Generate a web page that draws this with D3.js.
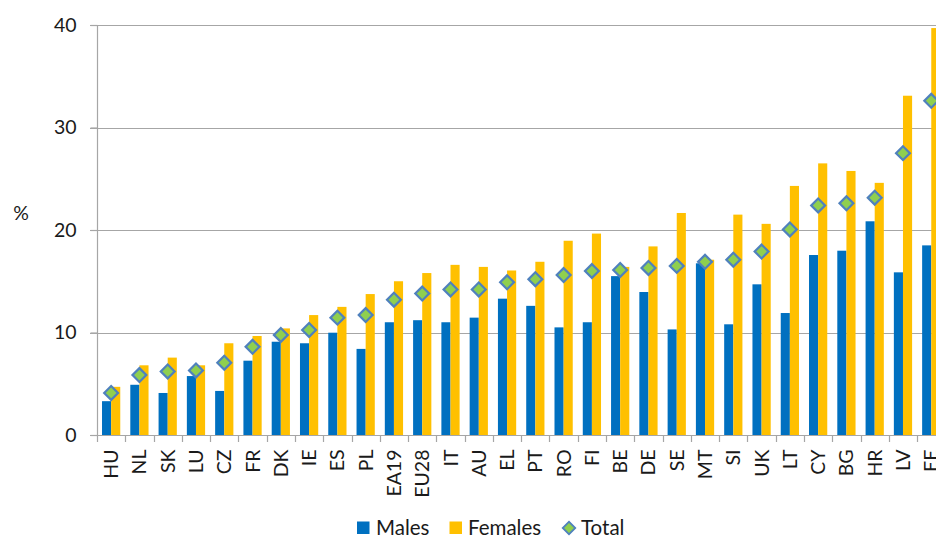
<!DOCTYPE html>
<html>
<head>
<meta charset="utf-8">
<script src="https://cdn.jsdelivr.net/npm/d3@7/dist/d3.min.js"></script>
<style>
  html, body { margin: 0; padding: 0; background: #fff; }
  svg { display: block; font-family: Lato, "Open Sans", sans-serif; }
</style>
</head>
<body>
<svg id="chart" width="936" height="538"></svg>
<script>
const categories = ["HU","NL","SK","LU","CZ","FR","DK","IE","ES","PL","EA19","EU28","IT","AU","EL","PT","RO","FI","BE","DE","SE","MT","SI","UK","LT","CY","BG","HR","LV","EE"];
const males   = [3.3, 4.9, 4.1, 5.75, 4.3, 7.25, 9.1, 8.95, 9.98, 8.4, 11.0, 11.2, 11.0, 11.45, 13.3, 12.6, 10.5, 11.0, 15.5, 13.95, 10.3, 16.75, 10.8, 14.7, 11.9, 17.56, 17.98, 20.85, 15.87, 18.5];
const females = [4.7, 6.8, 7.55, 6.8, 8.95, 9.66, 10.4, 11.7, 12.5, 13.75, 15.0, 15.8, 16.6, 16.4, 16.05, 16.9, 18.95, 19.65, 16.4, 18.4, 21.66, 17.1, 21.5, 20.6, 24.3, 26.5, 25.76, 24.6, 33.1, 39.7];
const total   = [4.1, 5.85, 6.2, 6.3, 7.05, 8.6, 9.76, 10.25, 11.45, 11.7, 13.2, 13.8, 14.2, 14.2, 14.9, 15.2, 15.6, 16.0, 16.1, 16.3, 16.5, 16.9, 17.1, 17.9, 20.05, 22.4, 22.6, 23.15, 27.5, 32.6];
const yTicks  = [0, 10, 20, 30, 40];
const seriesNames = ["Males", "Females", "Total"];

const svg = d3.select("#chart");
const left = 97, step = 28.28, nCat = categories.length;
const x = d3.scaleBand().domain(categories).range([left, left + step * nCat]).paddingInner(0).paddingOuter(0);
const y = d3.scaleLinear().domain([0, 40]).range([435, 25]);
const bw = x.bandwidth() / 3.1;

const gridColor = "#a6a6a6";
const textColor = "#1a1a1a";

// gridlines
svg.append("g").selectAll("line").data(yTicks.filter(d => d > 0)).join("line")
  .attr("x1", left - 7).attr("x2", 936)
  .attr("y1", d => Math.round(y(d)) + 0.5).attr("y2", d => Math.round(y(d)) + 0.5)
  .attr("stroke", gridColor).attr("stroke-width", 1.2);

// y axis
const yAxis = d3.axisLeft(y).tickValues(yTicks).tickSize(7).tickPadding(14).tickFormat(d3.format("d"));
const gy = svg.append("g").attr("transform", `translate(${left + 0.5},0)`).call(yAxis);
gy.select(".domain").attr("stroke", gridColor).attr("stroke-width", 1.2).attr("d", `M0,${y(40)}V${y(0)}`);
gy.selectAll(".tick line").attr("stroke", gridColor).attr("stroke-width", 1.2);
gy.selectAll(".tick text").attr("fill", textColor).style("font-size", "19.5px").style("font-family", "Lato");

// bars
const gBars = svg.append("g");
gBars.selectAll("rect.m").data(categories).join("rect").attr("class", "m")
  .attr("x", d => x(d) + x.bandwidth() / 2 - bw)
  .attr("width", bw)
  .attr("y", (d, i) => y(males[i]))
  .attr("height", (d, i) => y(0) - y(males[i]))
  .attr("fill", "#0070c0");
gBars.selectAll("rect.f").data(categories).join("rect").attr("class", "f")
  .attr("x", d => x(d) + x.bandwidth() / 2)
  .attr("width", bw)
  .attr("y", (d, i) => y(females[i]))
  .attr("height", (d, i) => y(0) - y(females[i]))
  .attr("fill", "#ffc000");

// x axis
const xAxis = d3.axisBottom(x).tickSize(0).tickPadding(0);
const gx = svg.append("g").attr("transform", `translate(0,${y(0) + 0.5})`).call(xAxis);
gx.select(".domain").attr("stroke", gridColor).attr("stroke-width", 1.2).attr("d", `M${left - 7},0H936`);
gx.selectAll(".tick text")
  .attr("fill", textColor).style("font-size", "19.5px").style("font-family", "Lato")
  .attr("text-anchor", "end")
  .attr("transform", "rotate(-90)")
  .attr("x", -14).attr("y", 0).attr("dy", "0.36em");
// tick separators between categories
svg.append("g").selectAll("line").data(d3.range(nCat + 1)).join("line")
  .attr("x1", i => Math.round(left + i * step) + 0.5).attr("x2", i => Math.round(left + i * step) + 0.5)
  .attr("y1", y(0)).attr("y2", y(0) + 7)
  .attr("stroke", gridColor).attr("stroke-width", 1.2);

// total diamonds
const diamond = d3.symbol(d3.symbolSquare, 96);
svg.append("g").selectAll("path").data(categories).join("path")
  .attr("d", diamond)
  .attr("transform", (d, i) => `translate(${x(d) + x.bandwidth() / 2},${y(total[i])}) rotate(45)`)
  .attr("fill", "#8fcf4f").attr("stroke", "#4f81bd").attr("stroke-width", 2.2);

// y label
svg.append("text").attr("x", 21).attr("y", 220).attr("text-anchor", "middle")
  .attr("fill", textColor).style("font-size", "19.5px").text("%");

// legend
const lg = svg.append("g");
const legendItems = [
  {name: seriesNames[0], type: "rect", color: "#0070c0", sx: 357, tx: 376},
  {name: seriesNames[1], type: "rect", color: "#ffc000", sx: 449.5, tx: 468},
  {name: seriesNames[2], type: "diamond", color: "#8fcf4f", sx: 562.5, tx: 581}
];
legendItems.forEach(it => {
  if (it.type === "rect") {
    lg.append("rect").attr("x", it.sx).attr("y", 521.5).attr("width", 12.5).attr("height", 12.5).attr("fill", it.color);
  } else {
    lg.append("path").attr("d", d3.symbol(d3.symbolSquare, 78)())
      .attr("transform", `translate(${it.sx + 6.5},528) rotate(45)`)
      .attr("fill", it.color).attr("stroke", "#4f81bd").attr("stroke-width", 1.8);
  }
  lg.append("text").attr("x", it.tx).attr("y", 535).attr("fill", textColor)
    .style("font-size", "20.5px").text(it.name);
});
</script>
</body>
</html>
